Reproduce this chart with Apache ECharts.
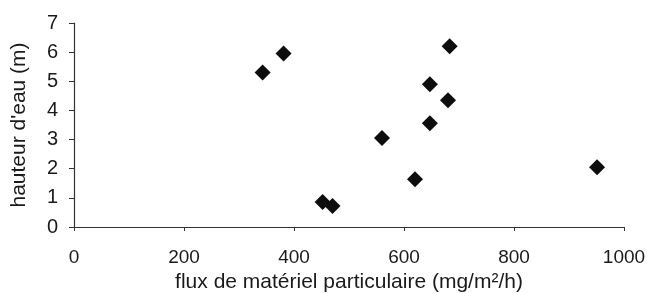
<!DOCTYPE html>
<html>
<head>
<meta charset="utf-8">
<script src="https://cdn.jsdelivr.net/npm/echarts@6/dist/echarts.min.js"></script>
<style>
  html, body { margin: 0; padding: 0; background: #fff; }
  #chart { width: 651px; height: 293px; }
</style>
</head>
<body>
<div id="chart"></div>
<script>
// flux (mg/m²/h) vs hauteur d'eau (m)
var fluxValues = [343, 381, 452, 470, 560, 620, 647, 647, 680, 683, 951];
var hauteurValues = [5.3, 5.95, 0.86, 0.72, 3.05, 1.64, 4.9, 3.56, 4.35, 6.2, 2.05];
var xTicks = [0, 200, 400, 600, 800, 1000];
var yTicks = [0, 1, 2, 3, 4, 5, 6, 7];

var points = fluxValues.map(function (v, i) { return [v, hauteurValues[i]]; });

var font = 'Liberation Sans, Arial, sans-serif';
var txt = '#1a1a1a';

var chart = echarts.init(document.getElementById('chart'));
chart.setOption({
    animation: false,
    backgroundColor: '#ffffff',
    grid: { left: 74, right: 27, top: 23, bottom: 66, outerBoundsMode: 'none', containLabel: false },
    xAxis: {
        type: 'value',
        min: xTicks[0],
        max: xTicks[xTicks.length - 1],
        interval: 200,
        name: 'flux de matériel particulaire (mg/m²/h)',
        nameLocation: 'middle',
        nameGap: 38,
        nameTextStyle: { fontFamily: font, fontSize: 21, color: txt },
        axisLine: { lineStyle: { color: '#333', width: 1.2 } },
        axisTick: { length: 4, lineStyle: { color: '#333' } },
        axisLabel: {
            margin: 21, fontFamily: font, fontSize: 19, color: txt,
            formatter: function (v) { return String(v); }
        },
        splitLine: { show: false }
    },
    yAxis: {
        type: 'value',
        min: yTicks[0],
        max: yTicks[yTicks.length - 1],
        interval: 1,
        name: "hauteur d'eau (m)",
        nameLocation: 'middle',
        nameGap: 44,
        nameTextStyle: { fontFamily: font, fontSize: 21, color: txt },
        axisLine: { show: true, lineStyle: { color: '#333', width: 1.2 } },
        axisTick: { show: true, length: 5, lineStyle: { color: '#333' } },
        axisLabel: { margin: 16, fontFamily: font, fontSize: 20, color: txt },
        splitLine: { show: false }
    },
    series: [{
        type: 'scatter',
        data: points,
        symbol: 'diamond',
        symbolSize: 16,
        itemStyle: { color: '#0d0d0d', opacity: 1 }
    }]
});
</script>
</body>
</html>
